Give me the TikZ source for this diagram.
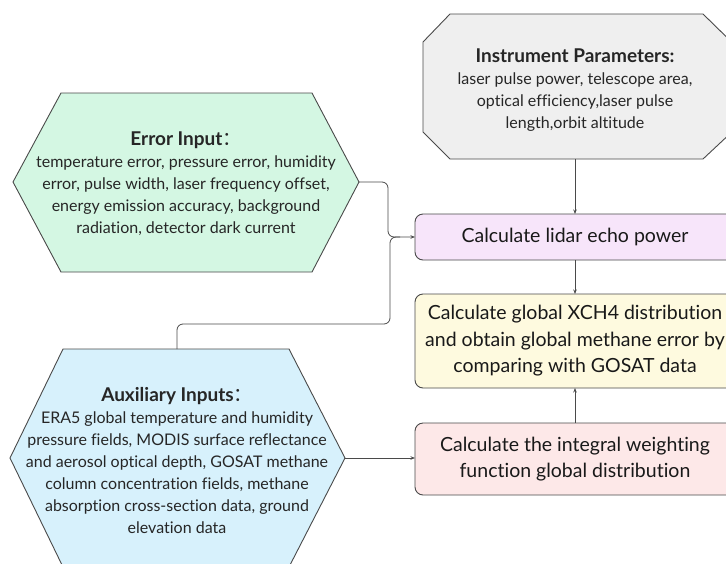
\documentclass[tikz,border=0pt]{standalone}
\usepackage{fontspec}
\setmainfont{Lato}[Ligatures=NoCommon]
\newfontfamily\cjk{Noto Sans CJK SC}
\usetikzlibrary{arrows.meta}
\definecolor{edge}{HTML}{4A4A4A}
\definecolor{grayfill}{HTML}{EFEFEF}
\definecolor{greenfill}{HTML}{D4F7E3}
\definecolor{bluefill}{HTML}{D7F1FC}
\definecolor{purplefill}{HTML}{F7E5FA}
\definecolor{yellowfill}{HTML}{FEFADF}
\definecolor{pinkfill}{HTML}{FDE8E8}
\tikzset{
  shapeline/.style={draw=edge, line width=0.9pt},
  boxshape/.style={shapeline, rounded corners=8pt},
  txt/.style={align=center, inner sep=0pt, text=black!85, font=\fontsize{16}{22}\selectfont},
  boxtxt/.style={align=center, inner sep=0pt, text=black!90, font=\fontsize{19.5}{26.5}\selectfont},
  conn/.style={draw=edge, line width=0.8pt, rounded corners=6pt},
  arr/.style={conn, -{Stealth[length=4.5pt,width=3.5pt]}},
}
\newcommand{\ttl}[1]{{\fontsize{19}{24}\selectfont\bfseries #1}}
\newcommand{\fwcolon}{{\cjk\mdseries ：}}
\begin{document}
\begin{tikzpicture}[x=1pt,y=-1pt]
\useasboundingbox (0,0) rectangle (726,563);

% shapes
\fill[white] (0,0) rectangle (726,563);
\draw[shapeline, fill=grayfill] (450,14)--(703,14)--(726.5,37)--(726.5,137)--(703,159)--(450,159)--(423,132)--(423,42)--cycle;
\draw[shapeline, fill=greenfill] (13,182)--(61,93)--(312,93)--(359,182)--(312,272)--(61,272)--cycle;
\draw[shapeline, fill=bluefill] (10,458)--(63,349)--(289,349)--(345,458)--(289,567)--(63,567)--cycle;
\draw[boxshape, fill=purplefill] (415,214) rectangle (735,260);
\draw[boxshape, fill=yellowfill] (415,294) rectangle (735,388);
\draw[boxshape, fill=pinkfill] (415,423) rectangle (735,495);

% connection coordinates
\coordinate (instB) at (575,159);
\coordinate (errR) at (359,182);
\coordinate (auxT) at (177,349);
\coordinate (auxR) at (345,458);
\coordinate (lidT) at (575,214);
\coordinate (lidB) at (575,260);
\coordinate (lidL) at (415,237);
\coordinate (xchT) at (575,294);
\coordinate (xchB) at (575,388);
\coordinate (intT) at (575,423);
\coordinate (intL) at (415,458);

% texts
\node[txt] (inst) at (575,90) {\ttl{Instrument Parameters:}\\laser pulse power, telescope area,\\optical efficiency,laser pulse\\length,orbit altitude};
\node[txt] (err) at (186,184) {\ttl{Error Input\fwcolon}\\temperature error, pressure error, humidity\\error, pulse width, laser frequency offset,\\energy emission accuracy, background\\radiation, detector dark current};
\node[txt] (aux) at (177,460) {\ttl{Auxiliary Inputs\fwcolon}\\ERA5 global temperature and humidity\\pressure fields, MODIS surface reflectance\\and aerosol optical depth, GOSAT methane\\column concentration fields, methane\\absorption cross-section data, ground\\elevation data};
\node[boxtxt] (lid) at (575,237) {Calculate lidar echo power};
\node[boxtxt] (xch) at (575,341) {Calculate global XCH4 distribution\\and obtain global methane error by\\comparing with GOSAT data};
\node[boxtxt] (int) at (575,459) {Calculate the integral weighting\\function global distribution};

% connectors
\draw[arr] (instB) -- (lidT);
\draw[arr] (lidB) -- (xchT);
\draw[arr] (intT) -- (xchB);
\draw[arr] (errR) -- (388,182) -- (388,237) -- (lidL);
\draw[conn] (auxT) -- (177,324) -- (390,324) -- (390,237) -- (400,237);
\draw[arr] (auxR) -- (intL);
\end{tikzpicture}
\end{document}
